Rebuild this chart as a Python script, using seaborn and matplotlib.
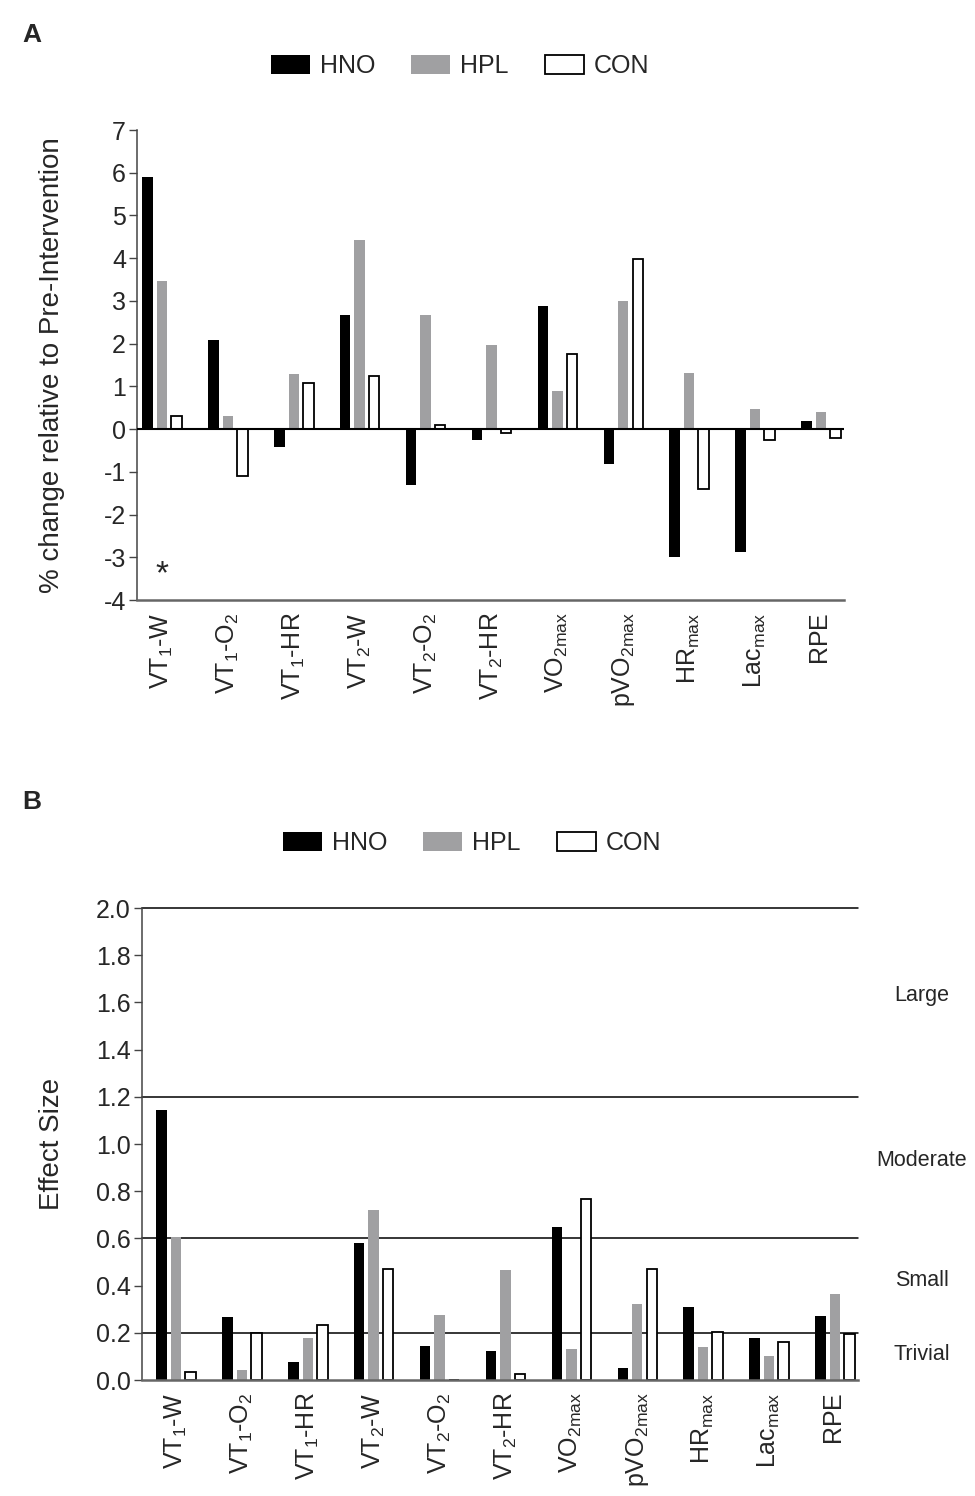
import numpy as np
import pandas as pd
import matplotlib
matplotlib.use("Agg")
import matplotlib.pyplot as plt
import seaborn as sns
from matplotlib.patches import Patch

# ---------------- data ----------------
categories = ["VT1-W", "VT1-O2", "VT1-HR", "VT2-W", "VT2-O2", "VT2-HR",
              "VO2max", "pVO2max", "HRmax", "Lacmax", "RPE"]
tick_labels = [r"$\mathregular{VT_1\text{-}W}$", r"$\mathregular{VT_1\text{-}O_2}$",
               r"$\mathregular{VT_1\text{-}HR}$", r"$\mathregular{VT_2\text{-}W}$",
               r"$\mathregular{VT_2\text{-}O_2}$", r"$\mathregular{VT_2\text{-}HR}$",
               r"$\mathregular{VO_{2max}}$", r"$\mathregular{pVO_{2max}}$",
               r"$\mathregular{HR_{max}}$", r"$\mathregular{Lac_{max}}$",
               r"$\mathregular{RPE}$"]
groups = ["HNO", "HPL", "CON"]

hno_change = [5.91, 2.09, -0.41, 2.66, -1.31, -0.25, 2.87, -0.81, -3.00, -2.87, 0.19]
hpl_change = [3.47, 0.30, 1.29, 4.43, 2.68, 1.96, 0.88, 3.00, 1.32, 0.48, 0.40]
con_change = [0.30, -1.09, 1.09, 1.25, 0.09, -0.09, 1.75, 3.98, -1.40, -0.25, -0.21]

hno_es = [1.143, 0.267, 0.076, 0.580, 0.143, 0.123, 0.648, 0.051, 0.308, 0.178, 0.270]
hpl_es = [0.607, 0.041, 0.178, 0.720, 0.275, 0.466, 0.133, 0.322, 0.140, 0.102, 0.364]
con_es = [0.035, 0.198, 0.232, 0.472, 0.000, 0.024, 0.769, 0.472, 0.202, 0.160, 0.195]

es_thresholds = [0.2, 0.6, 1.2, 2.0]
es_zone_labels = ["Trivial", "Small", "Moderate", "Large"]
es_zone_y = [0.11, 0.42, 0.93, 1.63]

colors = {"HNO": "#000000", "HPL": "#a0a0a2", "CON": "#ffffff"}

def long_df(h, p, c, name):
    rows = []
    for g, vals in zip(groups, [h, p, c]):
        for cat, v in zip(categories, vals):
            rows.append({"measure": cat, "group": g, name: v})
    return pd.DataFrame(rows)

df_a = long_df(hno_change, hpl_change, con_change, "value")
df_b = long_df(hno_es, hpl_es, con_es, "value")

# ---------------- style ----------------
sns.set_style("ticks")
plt.rcParams["font.family"] = ["Liberation Sans", "DejaVu Sans"]
plt.rcParams["mathtext.fontset"] = "custom"
plt.rcParams["mathtext.rm"] = "Liberation Sans"
plt.rcParams["mathtext.default"] = "regular"
plt.rcParams["axes.unicode_minus"] = False

W, H = 975, 1496
fig = plt.figure(figsize=(W / 100, H / 100), dpi=100)

def px_axes(left, right, top, bottom):
    return fig.add_axes([left / W, 1 - bottom / H, (right - left) / W, (bottom - top) / H])

ax_a = px_axes(137, 844, 130, 600)
ax_b = px_axes(142, 858, 908, 1380)

def draw(ax, df):
    sns.barplot(data=df, x="measure", y="value", hue="group", order=categories,
                hue_order=groups, palette=colors, width=0.66, gap=0.28,
                saturation=1, errorbar=None, legend=False, ax=ax)
    for p in ax.patches:
        fc = p.get_facecolor()
        if fc[0] > 0.95 and fc[1] > 0.95 and fc[2] > 0.95:
            p.set_edgecolor("black")
            p.set_linewidth(1.3)
        else:
            p.set_edgecolor(fc)
            p.set_linewidth(0)
    ax.set_xticks(range(len(categories)))
    ax.set_xticklabels(tick_labels, rotation=90, fontsize=18)
    ax.tick_params(axis="x", length=0, pad=9)
    ax.tick_params(axis="y", length=6, width=1, color="#444444", labelsize=18, pad=2)
    ax.set_xlabel("")
    for s in ["top", "right"]:
        ax.spines[s].set_visible(False)
    ax.spines["left"].set_color("#444444")
    ax.spines["left"].set_linewidth(1.1)
    ax.spines["bottom"].set_color("#666666")
    ax.spines["bottom"].set_linewidth(1.8)

# Panel A
draw(ax_a, df_a)
ax_a.set_xlim(-0.38, 10.35)
ax_a.set_ylim(-4, 7)
ax_a.set_yticks(range(-4, 8))
ax_a.axhline(0, color="black", lw=1.5, zorder=3)
ax_a.set_ylabel("% change relative to Pre-Intervention", fontsize=20)
ax_a.yaxis.set_label_coords(-0.102, 0.5)
ax_a.text(0, -3.42, "*", ha="center", va="center", fontsize=24)

# Panel B
draw(ax_b, df_b)
ax_b.set_xlim(-0.516, 10.35)
ax_b.set_ylim(0, 2.0)
ax_b.set_yticks(np.round(np.arange(0, 2.01, 0.2), 1))
ax_b.set_yticklabels([f"{v:.1f}" for v in np.arange(0, 2.01, 0.2)])
for t in es_thresholds:
    ax_b.axhline(t, color="black", lw=1.1, zorder=0.5, clip_on=False)
ax_b.set_ylabel("Effect Size", fontsize=20)
ax_b.yaxis.set_label_coords(-0.1075, 0.5)
trans = matplotlib.transforms.blended_transform_factory(fig.transFigure, ax_b.transData)
for lab, yv in zip(es_zone_labels, es_zone_y):
    ax_b.text(922 / W, yv, lab, transform=trans, ha="center", va="center",
              fontsize=15.5, clip_on=False)

# Legends
handles = [Patch(facecolor=colors[g], edgecolor="black" if g == "CON" else colors[g],
                 linewidth=1.3 if g == "CON" else 0, label=g) for g in groups]
for cx, cy in [(460, 66), (472, 843)]:
    fig.legend(handles=handles, loc="center", bbox_to_anchor=(cx / W, 1 - cy / H),
               ncol=3, frameon=False, fontsize=18, handlelength=1.55,
               handleheight=0.78, handletextpad=0.4, columnspacing=1.45,
               borderpad=0, borderaxespad=0)

# Panel letters
fig.text(22 / W, 1 - 35 / H, "A", fontsize=19, fontweight="bold", ha="left", va="center")
fig.text(22 / W, 1 - 802 / H, "B", fontsize=19, fontweight="bold", ha="left", va="center")

fig.savefig("out.png", dpi=100)
